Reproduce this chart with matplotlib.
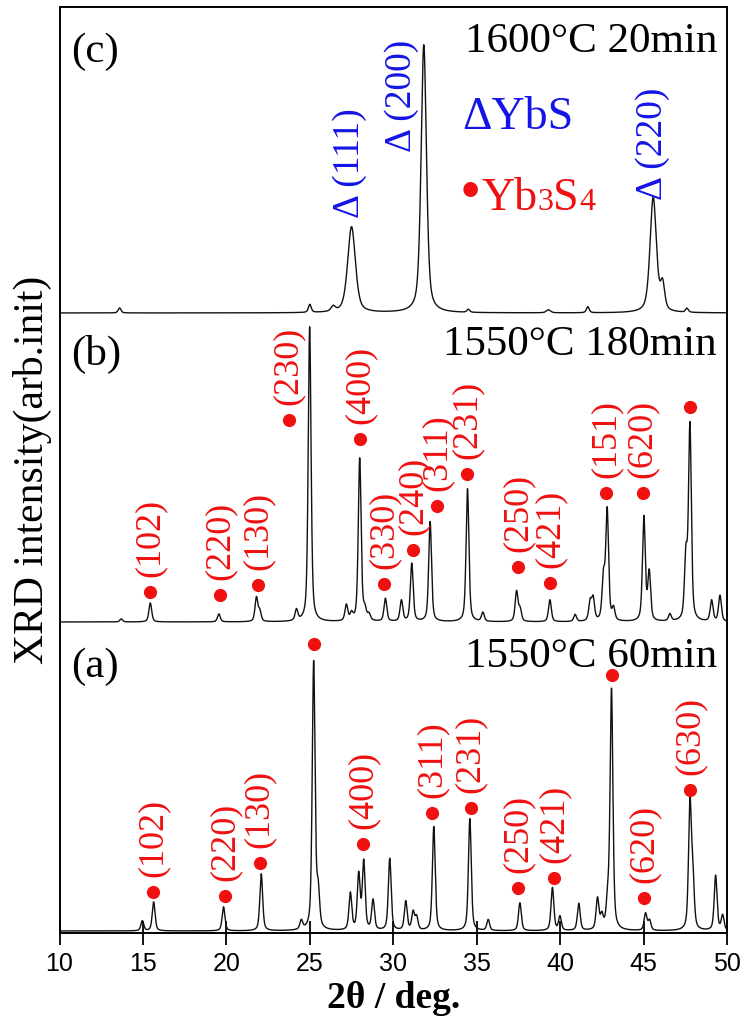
import numpy as np
import matplotlib.pyplot as plt
from matplotlib.offsetbox import TextArea, HPacker, AnnotationBbox

plt.rcParams["font.family"] = ["Liberation Serif", "DejaVu Serif"]

# ---------------- Peak tables: 2theta (deg) and intensity ----------------
# (c) 1600°C 20min
c_pos = [13.6, 25.0, 26.4, 27.5, 31.83, 34.5, 39.3, 41.66, 45.58, 46.14, 47.6]
c_int = [5, 8, 5, 86, 268, 3, 3, 6, 115, 26, 4]
c_fwhm = [0.2, 0.2, 0.3, 0.55, 0.38, 0.2, 0.3, 0.2, 0.45, 0.3, 0.2]

# (b) 1550°C 180min
b_pos = [13.7, 15.44, 19.55, 21.8, 22.0, 24.2, 24.99, 27.19, 27.5, 27.99, 28.3,
         28.55, 29.53, 30.49, 31.11, 32.21, 34.45, 35.37, 37.39, 37.6, 39.39,
         40.9, 41.8, 41.98, 42.6, 42.82, 43.2, 45.02, 45.34, 46.58, 47.54,
         47.78, 49.08, 49.58]
b_int = [3, 19, 8, 24, 10, 11, 295, 16, 7, 163, 10, 6, 23, 21, 58, 100, 133, 9,
         30, 12, 22, 7, 19, 22, 42, 110, 12, 104, 48, 7, 62, 195, 21, 26]

# (a) 1550°C 60min
a_pos = [14.96, 15.64, 19.83, 22.09, 24.49, 25.23, 25.5, 27.43, 27.93, 28.23,
         28.79, 29.79, 30.75, 31.19, 31.4, 32.43, 34.59, 35.69, 37.59, 39.54,
         39.99, 41.12, 42.24, 42.5, 42.85, 43.08, 45.12, 45.36, 47.78, 47.95,
         49.32, 49.74]
a_int = [10, 29, 24, 57, 9, 268, 35, 37, 55, 68, 30, 72, 29, 18, 13, 104, 112,
         11, 28, 43, 14, 27, 31, 13, 25, 240, 17, 10, 125, 50, 55, 15]

# Yb3S4 reflections (marker position above each baseline)
b_dot_pos = [15.44, 19.6, 21.9, 23.73, 27.99, 29.43, 31.17, 32.61, 34.41,
             37.47, 39.39, 42.78, 44.94, 47.78]
b_dot_int = [30, 27, 37, 202, 183, 38, 72, 116, 148, 55, 39, 129, 129, 215]
b_hkl = ["(102)", "(220)", "(130)", "(230)", "(400)", "(330)", "(240)",
         "(311)", "(231)", "(250)", "(421)", "(151)", "(620)", ""]

a_dot_pos = [15.6, 19.9, 21.99, 25.23, 28.19, 32.33, 34.63, 37.49, 39.65,
             43.08, 45.02, 47.78]
a_dot_int = [39, 35, 68, 287, 87, 118, 123, 43, 53, 256, 33, 141]
a_hkl = ["(102)", "(220)", "(130)", "", "(400)", "(311)", "(231)", "(250)",
         "(421)", "", "(620)", "(630)"]

# YbS reflections in (c)
c_hkl = ["Δ (111)", "Δ (200)", "Δ (220)"]
c_hkl_x = [27.4, 30.49, 45.57]
c_hkl_y = [95, 161, 113]

# vertical offsets of the stacked patterns
off_a, off_b, off_c = 2, 311, 620

RED = "#f01010"
BLUE = "#1414e8"


def pattern(x, pos, inten, fwhm):
    """Sum of pseudo-Voigt peaks."""
    fwhm = np.broadcast_to(fwhm, (len(pos),))
    y = np.zeros_like(x)
    for p, h, w in zip(pos, inten, fwhm):
        d = (x - p) / w
        y += h * (0.5 / (1 + 4 * d ** 2) + 0.5 * np.exp(-4 * np.log(2) * d ** 2))
    return y


x = np.linspace(10, 50, 6000)

fig = plt.figure(figsize=(7.45, 10.23), dpi=100)
ax = fig.add_axes([0.0799, 0.088, 0.8959, 0.9052])

ax.plot(x, off_c + pattern(x, c_pos, c_int, c_fwhm), color="#111111", lw=1.0)
ax.plot(x, off_b + pattern(x, b_pos, b_int, 0.2), color="#111111", lw=1.0)
ax.plot(x, off_a + pattern(x, a_pos, a_int, 0.2), color="#111111", lw=1.0)

# Yb3S4 markers and hkl labels
for pos, inten, hkl, off in [(b_dot_pos, b_dot_int, b_hkl, off_b),
                             (a_dot_pos, a_dot_int, a_hkl, off_a)]:
    ys = np.array(inten) + off
    ax.plot(pos, ys, "o", color=RED, ms=9.5, mec="none", zorder=5)
    for px, py, lab in zip(pos, ys, hkl):
        if lab:
            ax.text(px, py + 15, lab, color=RED, fontsize=26, rotation=90,
                    ha="center", va="bottom")

# YbS labels
for lab, lx, ly in zip(c_hkl, c_hkl_x, c_hkl_y):
    ax.text(lx, off_c + ly, lab, color=BLUE, fontsize=27, rotation=90,
            ha="center", va="bottom")

# panel tags and conditions
for tag, cond, ty in [("(c)", "1600°C 20min", 881),
                      ("(b)", "1550°C 180min", 578),
                      ("(a)", "1550°C 60min", 266)]:
    ax.text(10.7, ty, tag, fontsize=31, ha="left", va="center")
    ax.text(49.4, ty + 10, cond, fontsize=31, ha="right", va="center")

# phase key
ax.text(34.12, 815, "ΔYbS", color=BLUE, fontsize=33, ha="left", va="center")
key = HPacker(children=[
    TextArea("•", textprops=dict(color=RED, fontsize=44)),
    TextArea("Yb", textprops=dict(color=RED, fontsize=33)),
    TextArea("3", textprops=dict(color=RED, fontsize=23)),
    TextArea("S", textprops=dict(color=RED, fontsize=33)),
    TextArea("4", textprops=dict(color=RED, fontsize=23)),
], align="baseline", pad=0, sep=0)
ax.add_artist(AnnotationBbox(key, (34.0, 738), box_alignment=(0, 0.5),
                             frameon=False, pad=0))

ax.set_xlim(10, 50)
ax.set_ylim(0, 926)
ax.set_yticks([])
ax.set_xticks(np.arange(10, 51, 5))
ax.tick_params(axis="x", direction="inout", length=17, width=1.3, pad=5,
               labelsize=18)
for lbl in ax.get_xticklabels():
    lbl.set_family("Liberation Sans")
for sp in ax.spines.values():
    sp.set_linewidth(1.4)

ax.set_xlabel("2θ / deg.", fontsize=27, fontweight="bold", labelpad=4)
fig.text(32 / 745, 1 - 470 / 1023, "XRD intensity(arb.init)", fontsize=30,
         rotation=90, ha="center", va="center")

fig.savefig("out.png", dpi=100)
plt.close(fig)
